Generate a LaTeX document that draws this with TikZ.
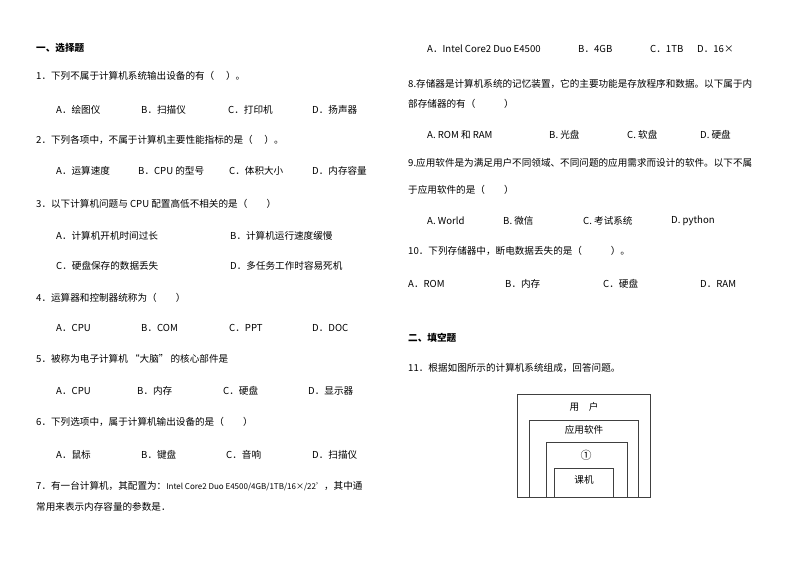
\documentclass[tikz,border=0pt]{standalone}
\usepackage{fontspec}
\setmainfont{Noto Sans CJK SC}
\begin{document}
\begin{tikzpicture}[x=1pt,y=-1pt,
  t/.style={anchor=west,inner sep=0pt,font=\fontsize{9.6}{11}\selectfont},
  h/.style={t,font=\fontsize{9.6}{11}\selectfont\bfseries},
  bx/.style={draw=black!75,line width=0.6pt}]
\useasboundingbox (0,0) rectangle (794,561);
% left column
\node[h] (s1) at (36,48) {一、选择题};
\node[t] (q1) at (36,76) {1．下列不属于计算机系统输出设备的有（\quad\ ）。};
\node[t] (q1a) at (56,110) {A．绘图仪};
\node[t] (q1b) at (141,110) {B．扫描仪};
\node[t] (q1c) at (228,110) {C．打印机};
\node[t] (q1d) at (312,110) {D．扬声器};
\node[t] (q2) at (36,140) {2．下列各项中，不属于计算机主要性能指标的是（\quad\ ）。};
\node[t] (q2a) at (56,171) {A．运算速度};
\node[t] (q2b) at (138,171) {B．CPU 的型号};
\node[t] (q2c) at (229,171) {C．体积大小};
\node[t] (q2d) at (312,171) {D．内存容量};
\node[t] (q3) at (36,204) {3．以下计算机问题与 CPU 配置高低不相关的是（\qquad ）};
\node[t] (q3a) at (56,236) {A．计算机开机时间过长};
\node[t] (q3b) at (230,236) {B．计算机运行速度缓慢};
\node[t] (q3c) at (56,266) {C．硬盘保存的数据丢失};
\node[t] (q3d) at (230,266) {D．多任务工作时容易死机};
\node[t] (q4) at (36,298) {4．运算器和控制器统称为（\qquad ）};
\node[t] (q4a) at (56,328) {A．CPU};
\node[t] (q4b) at (141,328) {B．COM};
\node[t] (q4c) at (229,328) {C．PPT};
\node[t] (q4d) at (312,328) {D．DOC};
\node[t] (q5) at (36,359) {5．被称为电子计算机 “大脑” 的核心部件是};
\node[t] (q5a) at (56,391) {A．CPU};
\node[t] (q5b) at (137,391) {B．内存};
\node[t] (q5c) at (223,391) {C．硬盘};
\node[t] (q5d) at (308,391) {D．显示器};
\node[t] (q6) at (36,422) {6．下列选项中，属于计算机输出设备的是（\qquad ）};
\node[t] (q6a) at (56,455) {A．鼠标};
\node[t] (q6b) at (141,455) {B．键盘};
\node[t] (q6c) at (226,455) {C．音响};
\node[t] (q6d) at (312,455) {D．扫描仪};
\node[t] (q7) at (36,486) {7．有一台计算机，其配置为：{\fontsize{8}{9}\selectfont Intel Core2 Duo E4500/4GB/1TB/16×/22'}，其中通};
\node[t] (q7b) at (36,507) {常用来表示内存容量的参数是．};
% right column
\node[t] (q7a) at (427,49) {A．Intel Core2 Duo E4500};
\node[t] (q7bb) at (578,49) {B．4GB};
\node[t] (q7c) at (650,49) {C．1TB};
\node[t] (q7d) at (697,49) {D．16×};
\node[t] (q8) at (408,84) {8.存储器是计算机系统的记忆装置，它的主要功能是存放程序和数据。以下属于内};
\node[t] (q8b) at (408,104) {部存储器的有（\qquad\quad ）};
\node[t] (q8a) at (427,135) {A. ROM 和 RAM};
\node[t] (q8bb) at (549,135) {B. 光盘};
\node[t] (q8c) at (627,135) {C. 软盘};
\node[t] (q8d) at (700,135) {D. 硬盘};
\node[t] (q9) at (408,163) {9.应用软件是为满足用户不同领域、不同问题的应用需求而设计的软件。以下不属};
\node[t] (q9b) at (408,190) {于应用软件的是（\qquad ）};
\node[t] (q9a) at (427,221) {A. World};
\node[t] (q9bb) at (503,221) {B. 微信};
\node[t] (q9c) at (583,221) {C. 考试系统};
\node[t] (q9d) at (671,221) {D. python};
\node[t] (q10) at (408,251) {10．下列存储器中，断电数据丢失的是（\qquad\quad ）。};
\node[t] (q10a) at (408,284) {A．ROM};
\node[t] (q10b) at (505,284) {B．内存};
\node[t] (q10c) at (603,284) {C．硬盘};
\node[t] (q10d) at (700,284) {D．RAM};
\node[h] (s2) at (408,338) {二、填空题};
\node[t] (q11) at (408,368) {11．根据如图所示的计算机系统组成，回答问题。};
% nested boxes
\draw[bx] (517,497) |- (650,394) -- (650,497) -- cycle;
\draw[bx] (529,497) |- (638,420) -- (638,497);
\draw[bx] (546,497) |- (627,442) -- (627,497);
\draw[bx] (554,497) |- (613,468) -- (613,497);
\node[t,anchor=center] (u) at (584,407) {用\quad 户};
\node[t,anchor=center] (app) at (584,430) {应用软件};
\node[t,anchor=center,font=\fontsize{11}{12}\selectfont] (one) at (586,455) {①};
\node[t,anchor=center] (hw) at (584,480) {课机};
\end{tikzpicture}
\end{document}
